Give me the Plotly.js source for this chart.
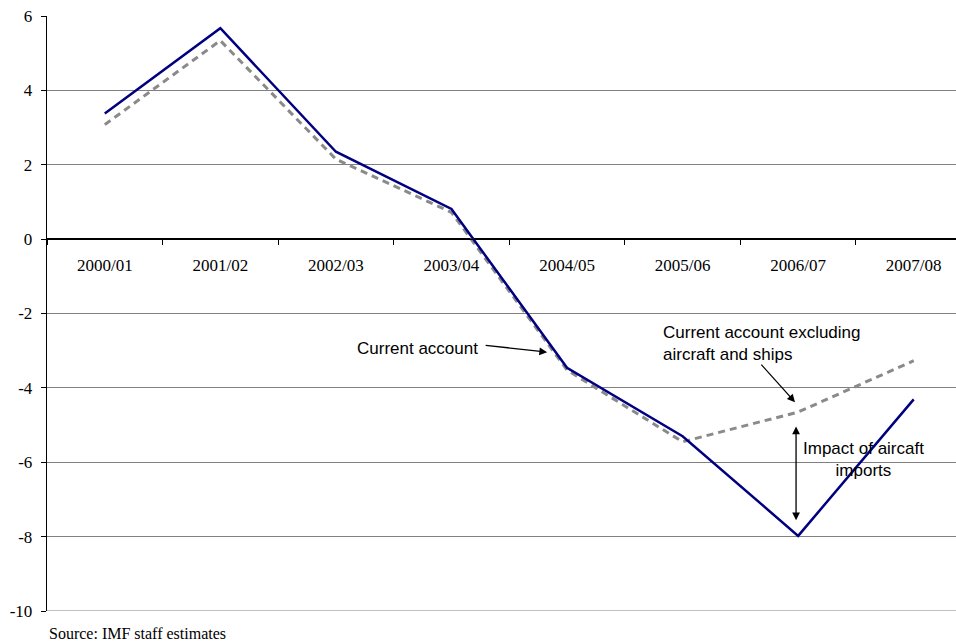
<!DOCTYPE html>
<html>
<head>
<meta charset="utf-8">
<script src="https://cdn.plot.ly/plotly-3.0.1.min.js"></script>
<style>html,body{margin:0;padding:0;background:#fff;}#chart{width:956px;height:644px;}</style>
</head>
<body>
<div id="chart"></div>
<script>
const years = ["2000/01","2001/02","2002/03","2003/04","2004/05","2005/06","2006/07","2007/08"];
const currentAccount = [3.38, 5.67, 2.35, 0.81, -3.46, -5.30, -7.98, -4.31];
const excludingAircraftShips = [3.08, 5.34, 2.15, 0.72, -3.52, -5.45, -4.65, -3.27];
const yTicks = [-10, -8, -6, -4, -2, 0, 2, 4, 6];

const serif = "Liberation Serif, Times New Roman, serif";
const sans = "Liberation Sans, Arial, sans-serif";

const traces = [
  {x: years, y: excludingAircraftShips, type: "scatter", mode: "lines",
   line: {color: "#8a8a8a", width: 3, dash: "7px,5px"}, hoverinfo: "skip"},
  {x: years, y: currentAccount, type: "scatter", mode: "lines",
   line: {color: "#000080", width: 2.5}, hoverinfo: "skip"}
];

const layout = {
  width: 956, height: 644,
  margin: {l: 46.7, r: 0, t: 16, b: 33.3, autoexpand: false},
  paper_bgcolor: "#fff", plot_bgcolor: "#fff",
  showlegend: false,
  xaxis: {
    type: "category", range: [-0.5, 7.366],
    anchor: "free", position: 0.625,
    showline: true, linecolor: "#000", linewidth: 1.3,
    ticks: "outside", tickson: "boundaries", ticklen: 5, tickcolor: "#000",
    showgrid: false, zeroline: false,
    tickfont: {family: serif, size: 17, color: "#000"},
    ticklabelstandoff: 10
  },
  yaxis: {
    range: [-10, 6], tickvals: yTicks, ticktext: yTicks.map(String),
    showline: true, linecolor: "#000", linewidth: 1.3,
    ticks: "outside", ticklen: 5, tickcolor: "#000",
    showgrid: true, gridcolor: "#808080", gridwidth: 1,
    zeroline: true, zerolinecolor: "#000", zerolinewidth: 1.3,
    tickfont: {family: serif, size: 17, color: "#000"},
    ticklabelstandoff: 5
  },
  shapes: [
    {type: "line", xref: "paper", yref: "y", x0: 0, x1: 1, y0: yTicks[0], y1: yTicks[0],
     line: {color: "#808080", width: 1}, layer: "below"}
  ],
  annotations: [
    {x: 3.828, y: -3.04, ax: 3.283, ay: -2.85, axref: "x", ayref: "y", xref: "x", yref: "y",
     text: "", showarrow: true, arrowhead: 2, arrowsize: 1.2, arrowwidth: 1.3, arrowcolor: "#000", standoff: 0},
    {x: 5.973, y: -4.385, ax: 5.670, ay: -3.336, axref: "x", ayref: "y", xref: "x", yref: "y",
     text: "", showarrow: true, arrowhead: 2, arrowsize: 1.2, arrowwidth: 1.3, arrowcolor: "#000", standoff: 0},
    {x: 5.982, y: -7.56, ax: 5.982, ay: -5.00, axref: "x", ayref: "y", xref: "x", yref: "y",
     text: "", showarrow: true, arrowhead: 2, arrowside: "end+start", arrowsize: 1.2, arrowwidth: 1.3, arrowcolor: "#000", standoff: 0, startstandoff: 0},
    {x: 2.708, y: -2.93, xref: "x", yref: "y", text: "Current account", showarrow: false,
     xanchor: "center", yanchor: "middle", font: {family: sans, size: 17, color: "#000"}},
    {x: 4.816, y: -2.81, xref: "x", yref: "y", text: "Current account excluding<br>aircraft and ships", showarrow: false,
     xanchor: "left", yanchor: "middle", align: "left", font: {family: sans, size: 17, color: "#000"}},
    {x: 6.562, y: -5.92, xref: "x", yref: "y", text: "Impact of aircaft<br>imports", showarrow: false,
     xanchor: "center", yanchor: "middle", align: "center", font: {family: sans, size: 17, color: "#000"}},
    {x: 0, y: -0.0375, xref: "paper", yref: "paper", text: "Source: IMF staff estimates", showarrow: false,
     xanchor: "left", yanchor: "middle", font: {family: serif, size: 16, color: "#000"}}
  ]
};

Plotly.newPlot("chart", traces, layout, {staticPlot: true, displayModeBar: false});
</script>
</body>
</html>
